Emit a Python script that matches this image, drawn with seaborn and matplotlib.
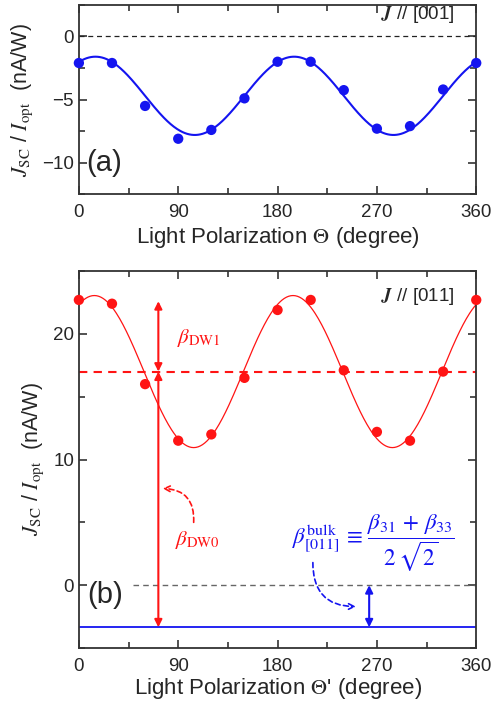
import numpy as np
import pandas as pd
import matplotlib
matplotlib.use('Agg')
import matplotlib.pyplot as plt
import seaborn as sns

# datos
theta = [0, 30, 60, 90, 120, 150, 180, 210, 240, 270, 300, 330, 360]
j001 = [-2.1, -2.1, -5.5, -8.1, -7.4, -4.9, -2.0, -2.0, -4.25, -7.3, -7.1, -4.2, -2.1]
j011 = [22.7, 22.4, 16.0, 11.5, 12.0, 16.5, 21.9, 22.7, 17.1, 12.2, 11.5, 17.0, 22.7]

# parametros del ajuste J = offset + amp*cos(2(theta - phase))
fit001 = {'offset': -4.7, 'amp': 3.1, 'phase': 15}
fit011 = {'offset': 17.0, 'amp': 6.05, 'phase': 14}

beta_dw1_top = 22.6
beta_bulk = -3.35
arrow_x_red = 72
arrow_x_blue = 263

blue = '#1414f0'
red = '#ff1414'

sns.set_style('ticks')
plt.rcParams['font.family'] = ['Liberation Sans', 'DejaVu Sans']
plt.rcParams['mathtext.fontset'] = 'stix'
plt.rcParams['axes.edgecolor'] = '#333333'
plt.rcParams['axes.linewidth'] = 1.3

fig = plt.figure(figsize=(4.93, 7.04), dpi=100)
ax1 = fig.add_axes([0.160, 0.724, 0.806, 0.269])
ax2 = fig.add_axes([0.160, 0.0795, 0.806, 0.5355])

tt = np.linspace(0, 360, 361)
df_pts = pd.DataFrame({'theta': theta, 'j001': j001, 'j011': j011})
df_fit = pd.DataFrame({
    'theta': tt,
    'f001': fit001['offset'] + fit001['amp'] * np.cos(np.radians(2 * (tt - fit001['phase']))),
    'f011': fit011['offset'] + fit011['amp'] * np.cos(np.radians(2 * (tt - fit011['phase']))),
})

# ---- panel (a)
ax1.axhline(0, color='#222222', lw=0.9, ls=(0, (4, 3)))
sns.lineplot(data=df_fit, x='theta', y='f001', ax=ax1, color=blue, lw=1.5)
sns.scatterplot(data=df_pts, x='theta', y='j001', ax=ax1, color=blue, s=55,
                edgecolor='none', zorder=5, clip_on=False)
ax1.set_xlim(0, 360)
ax1.set_ylim(-12.5, 2.5)
ax1.set_yticks([-10, -5, 0])
ax1.set_yticks([-12.5, -7.5, -2.5, 2.5], minor=True)
ax1.set_xlabel(r'Light Polarization $\Theta$ (degree)', fontsize=16, labelpad=3)
ax1.text(7, -10, '(a)', fontsize=21, va='center', ha='left')
ax1.text(340, 1.75, r'$\boldsymbol{J}$ // [001]', fontsize=13.5, ha='right', va='center')

# ---- panel (b)
ax2.axhline(fit011['offset'], color=red, lw=1.5, ls=(0, (4, 3)))
ax2.hlines(0, 49, 360, color='#666666', lw=1.0, ls=(0, (4, 3)))
ax2.axhline(beta_bulk, color=blue, lw=1.3)
sns.lineplot(data=df_fit, x='theta', y='f011', ax=ax2, color=red, lw=0.9)
sns.scatterplot(data=df_pts, x='theta', y='j011', ax=ax2, color=red, s=55,
                edgecolor='none', zorder=5, clip_on=False)
ax2.set_xlim(0, 360)
ax2.set_ylim(-5, 25)
ax2.set_yticks([0, 10, 20])
ax2.set_yticks([-5, 5, 15, 25], minor=True)
ax2.set_xlabel(r"Light Polarization $\Theta$' (degree)", fontsize=16, labelpad=1)
ax2.text(8, -0.8, '(b)', fontsize=21, va='center', ha='left')
ax2.text(340, 23.0, r'$\boldsymbol{J}$ // [011]', fontsize=13.5, ha='right', va='center')

dbl = dict(arrowstyle='<|-|>', color=red, lw=1.5, mutation_scale=11, shrinkA=0, shrinkB=0)
ax2.annotate('', xy=(arrow_x_red, beta_dw1_top), xytext=(arrow_x_red, fit011['offset']), arrowprops=dbl)
ax2.annotate('', xy=(arrow_x_red, fit011['offset']), xytext=(arrow_x_red, beta_bulk), arrowprops=dbl)
dblb = dict(dbl, color=blue)
ax2.annotate('', xy=(arrow_x_blue, 0), xytext=(arrow_x_blue, beta_bulk), arrowprops=dblb)

ax2.text(89, 19.7, r'$\beta_{\rm DW1}$', color=red, fontsize=15, va='center', ha='left')
ax2.text(87, 3.6, r'$\beta_{\rm DW0}$', color=red, fontsize=15, va='center', ha='left')
ax2.annotate('', xy=(76, 7.7), xytext=(104, 5.0),
             arrowprops=dict(arrowstyle='->', color=red, lw=1.2, ls=(0, (3, 2)),
                             connectionstyle='arc3,rad=0.5', shrinkA=0, shrinkB=0))
ax2.text(193, 3.3, r'$\beta^{\rm bulk}_{[011]} \,\equiv\, \dfrac{\beta_{31}\,+\,\beta_{33}}{2\,\sqrt{2}}$',
         color=blue, fontsize=16.5, va='center', ha='left')
ax2.annotate('', xy=(251, -1.7), xytext=(212, 1.8),
             arrowprops=dict(arrowstyle='->', color=blue, lw=1.2, ls=(0, (3, 2)),
                             connectionstyle='arc3,rad=0.5', shrinkA=0, shrinkB=0))

for ax in (ax1, ax2):
    ax.set_xticks([0, 90, 180, 270, 360])
    ax.set_xticks([45, 135, 225, 315], minor=True)
    ax.tick_params(which='both', direction='in', top=True, right=True,
                   color='#333333', width=1.2, labelsize=13.5)
    ax.tick_params(which='major', length=6)
    ax.tick_params(which='minor', length=4)
    ax.tick_params(axis='x', pad=7)
    ax.set_ylabel(r'$J_{\rm SC}$ / $I_{\rm opt}$  (nA/W)', fontsize=15.5, labelpad=5)
    for s in ax.spines.values():
        s.set_visible(True)

fig.savefig('out.png', dpi=100)
